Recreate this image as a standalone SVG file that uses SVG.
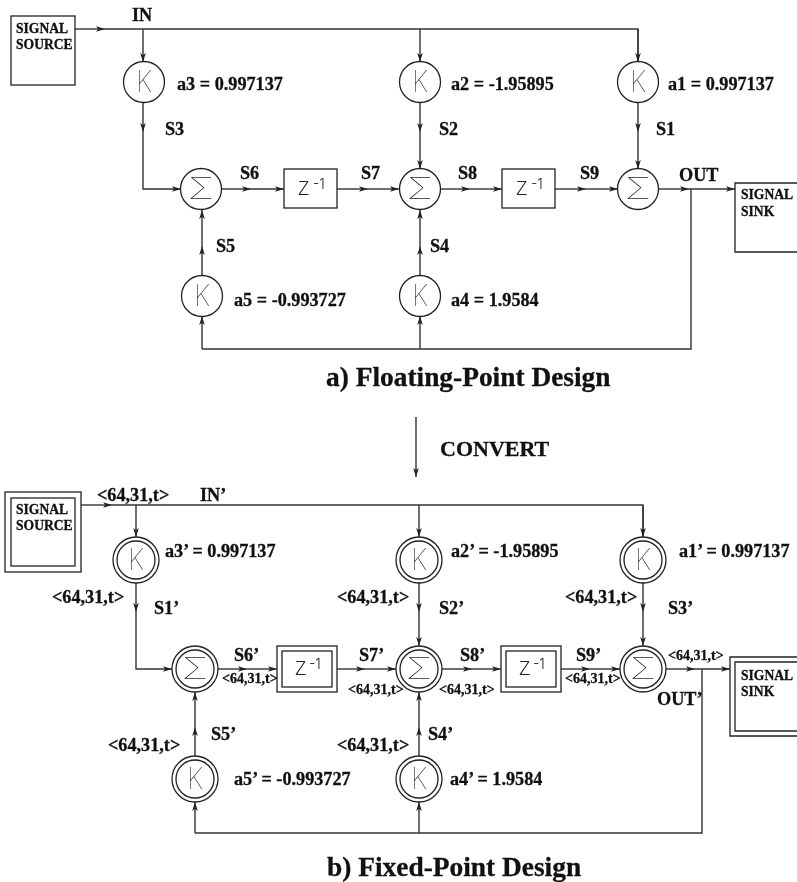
<svg xmlns="http://www.w3.org/2000/svg" width="797" height="882" viewBox="0 0 797 882">
<style>
.n{fill:#fff;stroke:#222;stroke-width:1.3}
.c{fill:none;stroke:#333;stroke-width:1.4}
.e{marker-end:url(#h)}
text{font-family:"Liberation Serif","Times New Roman",serif;font-weight:bold;fill:#111;filter:url(#g)}
.l,.v,.s,.p,.t{stroke:#111;stroke-width:.3}
.l{font-size:18.2px}
.v{font-size:22px}
.s{font-size:13.6px}
.p{font-size:14px}
.t{font-size:27.4px}
.k{font-family:"Inter","Liberation Sans",sans-serif;font-weight:100;font-size:30px;fill:#222}
.x{font-family:"Inter","Liberation Sans",sans-serif;font-weight:100;font-size:29px;fill:#222}
.z{font-family:"Inter","Liberation Sans",sans-serif;font-weight:200;font-size:25px;fill:#222}
.u{font-family:"Inter","Liberation Sans",sans-serif;font-weight:300;font-size:14px;fill:#222}
</style>
<defs>
<filter id="g" x="-20%" y="-20%" width="140%" height="140%"><feOffset dx="0" dy="0"/></filter>
<marker id="h" markerUnits="userSpaceOnUse" markerWidth="10" markerHeight="8" refX="9" refY="3.5" orient="auto"><path d="M0,0.7 L9,3.5 L0,6.3 L2.2,3.5 z" fill="#222"/></marker>
</defs>
<rect width="797" height="882" fill="#fff"/>
<g id="connectors">
<path class="c e" d="M75 29H105"/><path class="c" d="M105 29H638V62"/>
<path class="c e" d="M143 29V62"/><path class="c e" d="M420 29V62"/>
<path class="c e" d="M143 102V132"/><path class="c e" d="M143 132V189H181"/>
<path class="c e" d="M420 102V132"/><path class="c e" d="M420 132V169"/>
<path class="c e" d="M638 29V62"/><path class="c e" d="M638 102V132"/><path class="c e" d="M638 132V169"/>
<path class="c e" d="M222 189H251"/><path class="c e" d="M251 189H284"/>
<path class="c e" d="M337 189H368"/><path class="c e" d="M368 189H399"/>
<path class="c e" d="M440 189H470"/><path class="c e" d="M470 189H502"/>
<path class="c e" d="M555 189H586"/><path class="c e" d="M586 189H618"/>
<path class="c e" d="M659 189H689"/><path class="c e" d="M689 189H735"/>
<path class="c" d="M691 189V349H202"/>
<path class="c e" d="M202 349V316"/><path class="c e" d="M420 349V316"/>
<path class="c e" d="M202 276V246"/><path class="c e" d="M202 246V210"/>
<path class="c e" d="M420 276V246"/><path class="c e" d="M420 246V210"/>
<path class="c e" d="M416 417V477"/>
<path class="c e" d="M81 505H112"/><path class="c" d="M112 505H643V537"/>
<path class="c e" d="M136 505V537"/><path class="c e" d="M419 505V537"/><path class="c e" d="M643 505V537"/>
<path class="c e" d="M136 583V612"/><path class="c e" d="M136 612V669H172"/>
<path class="c e" d="M419 583V612"/><path class="c e" d="M419 612V646"/>
<path class="c e" d="M643 583V612"/><path class="c e" d="M643 612V646"/>
<path class="c e" d="M218 669H247"/><path class="c e" d="M247 669H277"/>
<path class="c e" d="M337 669H365"/><path class="c e" d="M365 669H396"/>
<path class="c e" d="M442 669H472"/><path class="c e" d="M472 669H501"/>
<path class="c e" d="M561 669H590"/><path class="c e" d="M590 669H620"/>
<path class="c e" d="M666 669H695"/><path class="c e" d="M695 669H730"/>
<path class="c" d="M702 669V833H195"/>
<path class="c e" d="M195 833V802"/><path class="c e" d="M419 833V802"/>
<path class="c e" d="M195 756V727"/><path class="c e" d="M195 727V692"/>
<path class="c e" d="M419 756V727"/><path class="c e" d="M419 727V692"/>
</g>
<g id="source-a"><rect class="n" x="11" y="16" width="64" height="69"/><text class="s" x="16" y="33">SIGNAL</text><text class="s" x="16" y="49">SOURCE</text></g>
<g id="k-a3"><circle class="n" cx="144" cy="82" r="20.5"/><text class="k" x="136" y="92" textLength="16" lengthAdjust="spacingAndGlyphs">K</text></g>
<g id="k-a2"><circle class="n" cx="420" cy="82" r="20.5"/><text class="k" x="412" y="92" textLength="16" lengthAdjust="spacingAndGlyphs">K</text></g>
<g id="k-a1"><circle class="n" cx="638" cy="82" r="20.5"/><text class="k" x="630" y="92" textLength="16" lengthAdjust="spacingAndGlyphs">K</text></g>
<g id="sum-a1"><circle class="n" cx="201" cy="189" r="20.5"/><text class="x" x="188" y="199" textLength="26" lengthAdjust="spacingAndGlyphs">Σ</text></g>
<g id="sum-a2"><circle class="n" cx="420" cy="189" r="20.5"/><text class="x" x="407" y="199" textLength="26" lengthAdjust="spacingAndGlyphs">Σ</text></g>
<g id="sum-a3"><circle class="n" cx="638" cy="189" r="20.5"/><text class="x" x="625" y="199" textLength="26" lengthAdjust="spacingAndGlyphs">Σ</text></g>
<g id="z-a1"><rect class="n" x="284" y="169" width="53" height="39"/><text class="z" x="297" y="195">z</text><text class="u" x="313" y="189">-1</text></g>
<g id="z-a2"><rect class="n" x="502" y="169" width="53" height="39"/><text class="z" x="515" y="195">z</text><text class="u" x="531" y="189">-1</text></g>
<g id="sink-a"><path class="n" d="M797 183H735V252H797"/><text class="s" x="741" y="199">SIGNAL</text><text class="s" x="741" y="216">SINK</text></g>
<g id="k-a5"><circle class="n" cx="202" cy="296" r="20.5"/><text class="k" x="194" y="306" textLength="16" lengthAdjust="spacingAndGlyphs">K</text></g>
<g id="k-a4"><circle class="n" cx="420" cy="296" r="20.5"/><text class="k" x="412" y="306" textLength="16" lengthAdjust="spacingAndGlyphs">K</text></g>
<g id="source-b"><rect class="n" x="5" y="492" width="76" height="80"/><rect class="n" x="11" y="498" width="64" height="68"/><text class="s" x="16" y="514">SIGNAL</text><text class="s" x="16" y="530">SOURCE</text></g>
<g id="k-b3"><circle class="n" cx="136" cy="560" r="23"/><circle class="n" cx="136" cy="560" r="19"/><text class="k" x="128" y="570" textLength="16" lengthAdjust="spacingAndGlyphs">K</text></g>
<g id="k-b2"><circle class="n" cx="419" cy="560" r="23"/><circle class="n" cx="419" cy="560" r="19"/><text class="k" x="411" y="570" textLength="16" lengthAdjust="spacingAndGlyphs">K</text></g>
<g id="k-b1"><circle class="n" cx="643" cy="560" r="23"/><circle class="n" cx="643" cy="560" r="19"/><text class="k" x="635" y="570" textLength="16" lengthAdjust="spacingAndGlyphs">K</text></g>
<g id="sum-b1"><circle class="n" cx="195" cy="669" r="23"/><circle class="n" cx="195" cy="669" r="19"/><text class="x" x="182" y="679" textLength="26" lengthAdjust="spacingAndGlyphs">Σ</text></g>
<g id="sum-b2"><circle class="n" cx="419" cy="669" r="23"/><circle class="n" cx="419" cy="669" r="19"/><text class="x" x="406" y="679" textLength="26" lengthAdjust="spacingAndGlyphs">Σ</text></g>
<g id="sum-b3"><circle class="n" cx="643" cy="669" r="23"/><circle class="n" cx="643" cy="669" r="19"/><text class="x" x="630" y="679" textLength="26" lengthAdjust="spacingAndGlyphs">Σ</text></g>
<g id="z-b1"><rect class="n" x="277" y="646" width="60" height="46"/><rect class="n" x="282" y="651" width="50" height="36"/><text class="z" x="294" y="675">z</text><text class="u" x="309" y="669">-1</text></g>
<g id="z-b2"><rect class="n" x="501" y="646" width="60" height="46"/><rect class="n" x="506" y="651" width="50" height="36"/><text class="z" x="518" y="675">z</text><text class="u" x="533" y="669">-1</text></g>
<g id="sink-b"><path class="n" d="M797 657H730V736H797"/><path class="n" d="M797 662H735V731H797"/><text class="s" x="741" y="680">SIGNAL</text><text class="s" x="741" y="696">SINK</text></g>
<g id="k-b5"><circle class="n" cx="195" cy="779" r="23"/><circle class="n" cx="195" cy="779" r="19"/><text class="k" x="187" y="789" textLength="16" lengthAdjust="spacingAndGlyphs">K</text></g>
<g id="k-b4"><circle class="n" cx="419" cy="779" r="23"/><circle class="n" cx="419" cy="779" r="19"/><text class="k" x="411" y="789" textLength="16" lengthAdjust="spacingAndGlyphs">K</text></g>
<g id="labels">
<text class="l" x="132" y="21">IN</text><text class="l" x="177" y="90">a3 = 0.997137</text><text class="l" x="451" y="90">a2 = -1.95895</text><text class="l" x="668" y="90">a1 = 0.997137</text>
<text class="l" x="165" y="135">S3</text><text class="l" x="439" y="135">S2</text><text class="l" x="656" y="135">S1</text>
<text class="l" x="240" y="179">S6</text><text class="l" x="361" y="179">S7</text><text class="l" x="458" y="179">S8</text><text class="l" x="580" y="179">S9</text><text class="l" x="679" y="181">OUT</text>
<text class="l" x="216" y="252">S5</text><text class="l" x="430" y="252">S4</text><text class="l" x="234" y="306">a5 = -0.993727</text><text class="l" x="451" y="306">a4 = 1.9584</text>
<text class="t" x="326" y="386">a) Floating-Point Design</text><text class="v" x="440" y="456">CONVERT</text>
<text class="l" x="97" y="501">&lt;64,31,t&gt;</text><text class="l" x="200" y="501">IN’</text>
<text class="l" x="165" y="557">a3’ = 0.997137</text><text class="l" x="451" y="557">a2’ = -1.95895</text><text class="l" x="679" y="557">a1’ = 0.997137</text>
<text class="l" x="52" y="603">&lt;64,31,t&gt;</text><text class="l" x="337" y="603">&lt;64,31,t&gt;</text><text class="l" x="565" y="603">&lt;64,31,t&gt;</text>
<text class="l" x="154" y="614">S1’</text><text class="l" x="439" y="614">S2’</text><text class="l" x="668" y="614">S3’</text>
<text class="l" x="234" y="661">S6’</text><text class="l" x="359" y="661">S7’</text><text class="l" x="460" y="661">S8’</text><text class="l" x="576" y="661">S9’</text>
<text class="p" x="222" y="683">&lt;64,31,t&gt;</text><text class="p" x="348" y="694">&lt;64,31,t&gt;</text><text class="p" x="439" y="694">&lt;64,31,t&gt;</text><text class="p" x="565" y="683">&lt;64,31,t&gt;</text><text class="p" x="668" y="660">&lt;64,31,t&gt;</text>
<text class="l" x="657" y="705">OUT’</text>
<text class="l" x="211" y="740">S5’</text><text class="l" x="428" y="740">S4’</text><text class="l" x="108" y="751">&lt;64,31,t&gt;</text><text class="l" x="337" y="751">&lt;64,31,t&gt;</text>
<text class="l" x="234" y="785">a5’ = -0.993727</text><text class="l" x="450" y="785">a4’ = 1.9584</text>
<text class="t" x="327" y="876">b) Fixed-Point Design</text>
</g>
</svg>
